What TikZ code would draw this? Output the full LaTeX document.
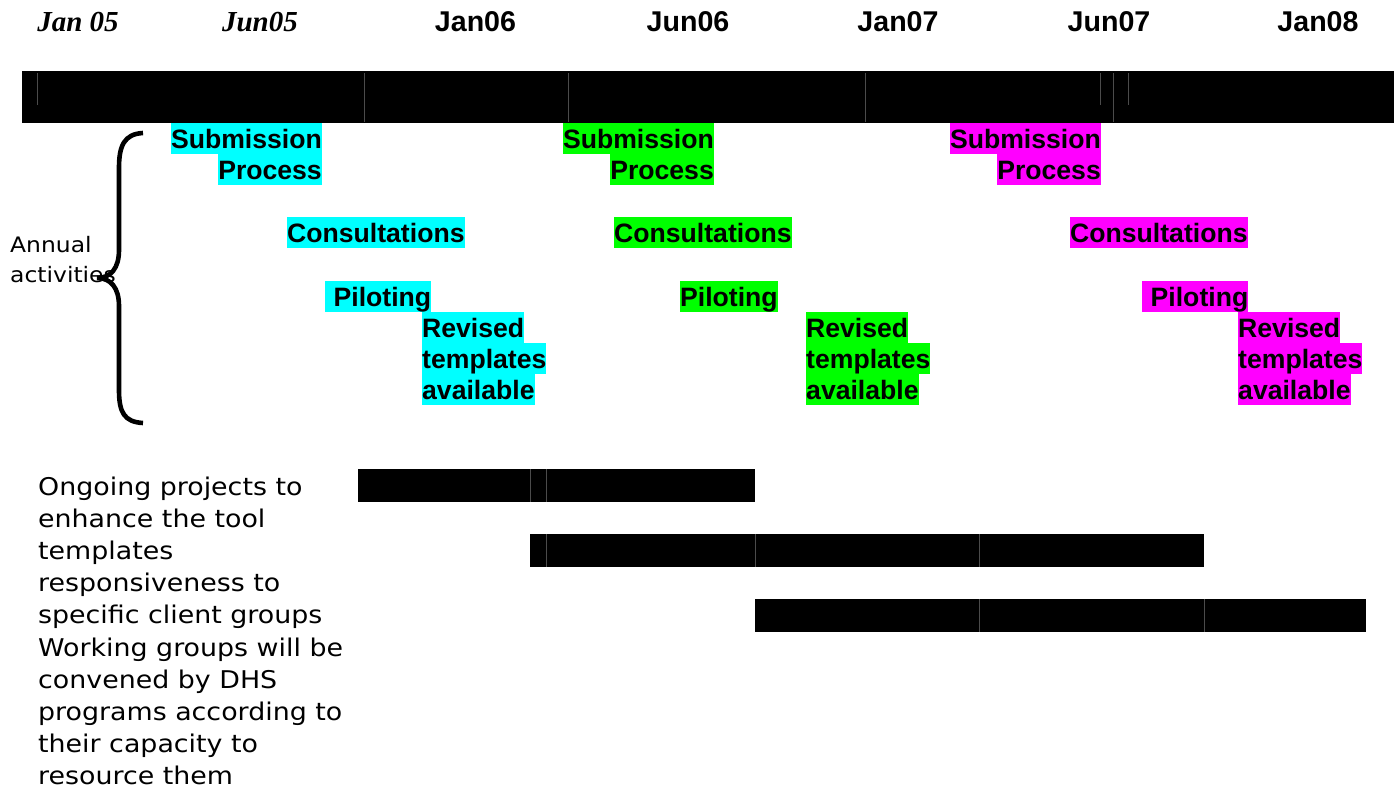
\documentclass[tikz,border=0pt]{standalone}
\usepackage{fontspec}
\setmainfont{Liberation Sans}
\newfontfamily\arialf{Liberation Sans}
\newfontfamily\timesf{Liberation Serif}
\newfontfamily\verdf[FakeStretch=1.1]{DejaVu Sans}
\definecolor{hlcyan}{RGB}{0,255,255}
\definecolor{hlgreen}{RGB}{0,255,0}
\definecolor{hlmag}{RGB}{255,0,255}
\definecolor{sepcol}{RGB}{75,75,75}
\tikzset{
  hl/.style={inner sep=0pt, text height=25.3pt, text depth=5.7pt,
    font=\arialf\bfseries\fontsize{26.6pt}{31pt}\selectfont},
  hlc/.style={hl, fill=hlcyan},
  hlg/.style={hl, fill=hlgreen},
  hlm/.style={hl, fill=hlmag},
  datelab/.style={inner sep=0pt, anchor=base,
    font=\arialf\bfseries\fontsize{28.6pt}{32pt}\selectfont},
  dateit/.style={inner sep=0pt, anchor=base,
    font=\timesf\bfseries\itshape\fontsize{29pt}{32pt}\selectfont},
  bodytxt/.style={inner sep=0pt, anchor=base west,
    font=\verdf\fontsize{24.4pt}{32pt}\selectfont},
  anntxt/.style={inner sep=0pt, anchor=base west,
    font=\verdf\fontsize{21.3pt}{30pt}\selectfont},
  barbox/.style={fill=black, draw=none},
  sepline/.style={draw=sepcol, line width=1pt},
  bracepath/.style={draw=black, line width=4.6pt}
}
\begin{document}
\begin{tikzpicture}[x=1pt,y=-1pt]
\useasboundingbox (0,0) rectangle (1394,792);

% date labels
\node[dateit] (d1) at (78,32) {Jan 05};
\node[dateit] (d2) at (260,32) {Jun05};
\node[datelab] (d3) at (475.5,32) {Jan06};
\node[datelab] (d4) at (688,32) {Jun06};
\node[datelab] (d5) at (898,32) {Jan07};
\node[datelab] (d6) at (1109,32) {Jun07};
\node[datelab] (d7) at (1318,32) {Jan08};

% top bar
\fill[barbox] (22,71) rectangle (1394,123);
\foreach \sx in {364,568,865,1113}
  \draw[sepline] (\sx,73) -- (\sx,122);
\foreach \sx in {37,1100,1128}
  \draw[sepline] (\sx,73) -- (\sx,105);

% brace
\draw[bracepath] (143,133) .. controls (124,134) and (119,146) .. (119,168)
  -- (119,250) .. controls (119,268) and (111,278) .. (97,278)
  .. controls (111,278) and (119,288) .. (119,306)
  -- (119,390) .. controls (119,412) and (124,422) .. (143,423);

% Annual activities
\node[anntxt] (ann1) at (10,252) {Annual};
\node[anntxt] (ann2) at (10,282) {activities};

% cyan set
\node[hlc, anchor=north east] (cs1) at (322,123) {Submission};
\node[hlc, anchor=north east] (cs2) at (322,154) {Process};
\node[hlc, anchor=north west] (cc) at (287,217) {Consultations};
\node[hlc, anchor=north west] (cp) at (325,281) {\hspace*{8.5pt}Piloting};
\node[hlc, anchor=north west] (cr1) at (422,312) {Revised};
\node[hlc, anchor=north west] (cr2) at (422,343) {templates};
\node[hlc, anchor=north west] (cr3) at (422,374) {available};

% green set
\node[hlg, anchor=north east] (gs1) at (714,123) {Submission};
\node[hlg, anchor=north east] (gs2) at (714,154) {Process};
\node[hlg, anchor=north west] (gc) at (614,217) {Consultations};
\node[hlg, anchor=north west] (gp) at (680,281) {Piloting};
\node[hlg, anchor=north west] (gr1) at (806,312) {Revised};
\node[hlg, anchor=north west] (gr2) at (806,343) {templates};
\node[hlg, anchor=north west] (gr3) at (806,374) {available};

% magenta set
\node[hlm, anchor=north east] (ms1) at (1101,123) {Submission};
\node[hlm, anchor=north east] (ms2) at (1101,154) {Process};
\node[hlm, anchor=north west] (mc) at (1070,217) {Consultations};
\node[hlm, anchor=north west] (mp) at (1142,281) {\hspace*{8.5pt}Piloting};
\node[hlm, anchor=north west] (mr1) at (1238,312) {Revised};
\node[hlm, anchor=north west] (mr2) at (1238,343) {templates};
\node[hlm, anchor=north west] (mr3) at (1238,374) {available};

% project bars
\fill[barbox] (358,469) rectangle (755,502);
\foreach \sx in {530,546}
  \draw[sepline] (\sx,469) -- (\sx,502);
\fill[barbox] (530,534) rectangle (1204,567);
\foreach \sx in {546,755,979}
  \draw[sepline] (\sx,534) -- (\sx,567);
\fill[barbox] (755,599) rectangle (1366,632);
\foreach \sx in {979,1204}
  \draw[sepline] (\sx,599) -- (\sx,632);

% body text
\foreach \t [count=\i] in {Ongoing projects to, enhance the tool, templates,
  responsiveness to, specific client groups, Working groups will be,
  convened by DHS, programs according to, their capacity to, resource them}
  \node[bodytxt] (body\i) at (38,{495+32.2*(\i-1)}) {\t};
\end{tikzpicture}
\end{document}
